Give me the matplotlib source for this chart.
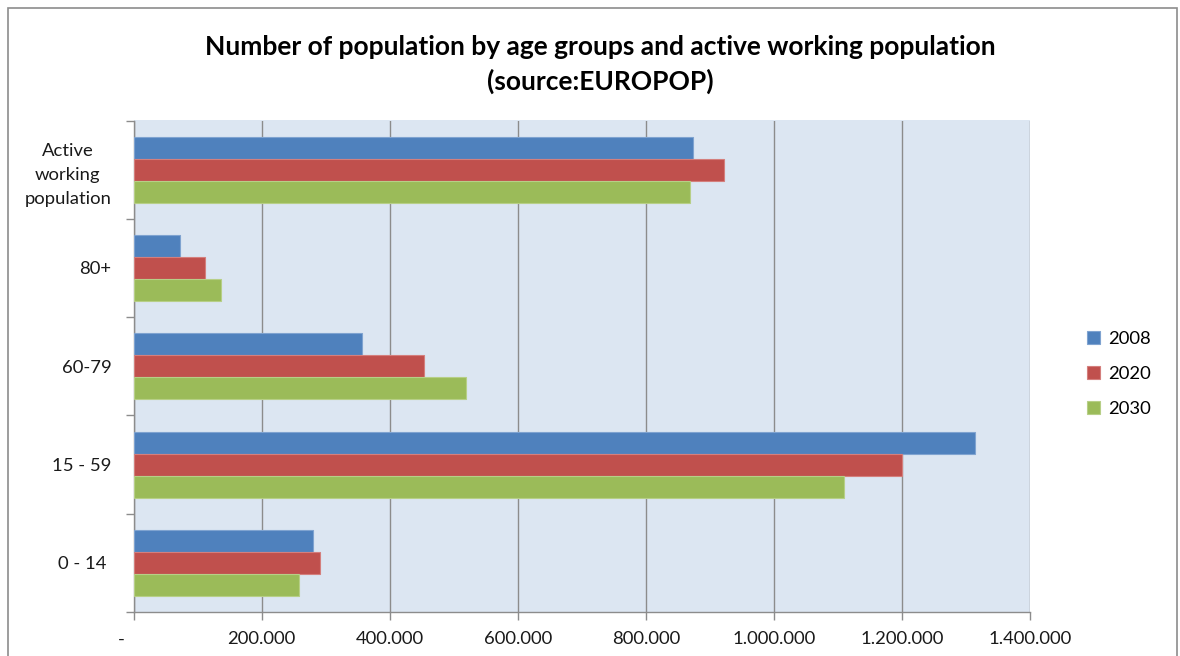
import matplotlib
matplotlib.use("Agg")
import matplotlib.pyplot as plt
import matplotlib.ticker as mticker
import matplotlib.transforms as mtransforms
import numpy as np

categories = ["0 - 14 ", "15 - 59", "60-79", "80+", "Active\nworking\npopulation"]
years = ["2008", "2020", "2030"]
values_2008 = [281000, 1314000, 357000, 72000, 873000]
values_2020 = [292000, 1200000, 454000, 111000, 922000]
values_2030 = [259000, 1109000, 519000, 136000, 869000]
colors = ["#4F81BD", "#C0504D", "#9BBB59"]
edges = ["#7FA3D0", "#D47F7D", "#B7CF87"]
x_ticks = [0, 200000, 400000, 600000, 800000, 1000000, 1200000, 1400000]

plt.rcParams["font.family"] = ["Lato", "DejaVu Sans"]

fig = plt.figure(figsize=(11.8, 6.56), dpi=100)
ax = fig.add_axes([133.5 / 1180, 1 - 612 / 656, (1030 - 133.5) / 1180, (612 - 120.5) / 656])

series = [values_2008, values_2020, values_2030]
y = np.arange(len(categories))
bar_h = 0.224
offsets = [bar_h, 0, -bar_h]
for vals, off, col, ec, lab in zip(series, offsets, colors, edges, years):
    ax.barh(y + off, vals, height=bar_h, color=col, edgecolor=ec, linewidth=0.8,
            label=lab, zorder=3)

ax.set_facecolor("#DCE6F2")
ax.set_xlim(0, 1400000)
ax.set_ylim(-0.5, len(categories) - 0.5)

ax.set_xticks(x_ticks)
ax.xaxis.set_major_formatter(mticker.FuncFormatter(
    lambda v, p: "-" if v == 0 else f"{int(v):,}".replace(",", ".")))
ax.grid(axis="x", color="#8C8C8C", linewidth=1.0, zorder=1)
ax.tick_params(axis="x", length=6, width=1, color="#8C8C8C", labelsize=13.3,
               labelcolor="#1A1A1A", pad=8)

# the zero label sits a little left of the axis origin
first = ax.get_xticklabels()[0]
first.set_transform(first.get_transform() +
                    mtransforms.ScaledTranslation(-12 / 100, 0, fig.dpi_scale_trans))

# category labels at centres, tick marks on the boundaries
ax.set_yticks(y)
ax.set_yticklabels(categories, multialignment="center", linespacing=1.6)
ax.set_yticks(np.arange(-0.5, len(categories), 1.0), minor=True)
ax.tick_params(axis="y", which="major", length=0, labelsize=13.3, labelcolor="#1A1A1A", pad=16)
ax.tick_params(axis="y", which="minor", length=6, width=1, color="#8C8C8C")

for side in ["top", "right"]:
    ax.spines[side].set_visible(False)
for side in ["left", "bottom"]:
    ax.spines[side].set_color("#8C8C8C")
    ax.spines[side].set_linewidth(1.0)

fig.text(600 / 1180, 1 - 47 / 656, "Number of population by age groups and active working population",
         ha="center", va="center", fontsize=19, fontweight="bold", color="black")
fig.text(600 / 1180, 1 - 81 / 656, "(source:EUROPOP)",
         ha="center", va="center", fontsize=19, fontweight="bold", color="black")

leg = fig.legend(loc="center left", bbox_to_anchor=(1070 / 1180, 1 - 374 / 656),
                 frameon=False, fontsize=13.3, handlelength=0.7, handleheight=0.7,
                 handletextpad=0.45, labelspacing=1.05)

# chart area border
fig.patches.append(plt.Rectangle((8 / 1180, -0.01), 1169 / 1180, 1 - 8 / 656 + 0.01,
                                 transform=fig.transFigure, fill=False,
                                 edgecolor="#8C8C8C", linewidth=1.2))

fig.savefig("out.png", dpi=100)
